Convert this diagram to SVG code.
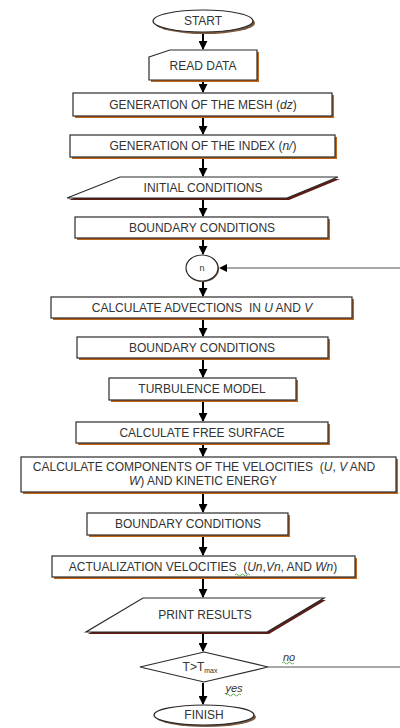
<svg xmlns="http://www.w3.org/2000/svg" width="400" height="728" viewBox="0 0 400 728">
<style>
.sh{fill:#c0651c;stroke:none}
.shp{fill:#5e1c14;stroke:none}
.she{fill:#7a5a40;stroke:none}
.bx{fill:#fff;stroke:#2a2a2a;stroke-width:1.2}
.t{font-family:"Liberation Sans",Arial,sans-serif;font-size:12px;fill:#333;text-anchor:middle;white-space:pre}
.i{font-style:italic}
.ln{stroke:#000;stroke-width:2;fill:none}
.lg{stroke:#555;stroke-width:1.2;fill:none}
.wv{stroke:#3a9a2a;stroke-width:0.8;fill:none}
</style>
<defs>
<marker id="ah" viewBox="0 0 10 10" refX="9" refY="5" markerWidth="4.5" markerHeight="4.5" orient="auto" markerUnits="strokeWidth">
<path d="M0,0 L10,5 L0,10 z" fill="#000"/>
</marker>
</defs>
<g id="connectors">
<line class="ln" x1="203" y1="33" x2="203" y2="49" marker-end="url(#ah)"/>
<line class="ln" x1="203" y1="81" x2="203" y2="92" marker-end="url(#ah)"/>
<line class="ln" x1="203" y1="118" x2="203" y2="134" marker-end="url(#ah)"/>
<line class="ln" x1="203" y1="159" x2="203" y2="176" marker-end="url(#ah)"/>
<line class="ln" x1="203" y1="200" x2="203" y2="216" marker-end="url(#ah)"/>
<line class="ln" x1="203" y1="240" x2="203" y2="254" marker-end="url(#ah)"/>
<line class="ln" x1="203" y1="282" x2="203" y2="296" marker-end="url(#ah)"/>
<line class="ln" x1="203" y1="320" x2="203" y2="336" marker-end="url(#ah)"/>
<line class="ln" x1="203" y1="360" x2="203" y2="377" marker-end="url(#ah)"/>
<line class="ln" x1="203" y1="402" x2="203" y2="421" marker-end="url(#ah)"/>
<line class="ln" x1="203" y1="445" x2="203" y2="456" marker-end="url(#ah)"/>
<line class="ln" x1="203" y1="494" x2="203" y2="512" marker-end="url(#ah)"/>
<line class="ln" x1="203" y1="537" x2="203" y2="555" marker-end="url(#ah)"/>
<line class="ln" x1="203" y1="579" x2="203" y2="597" marker-end="url(#ah)"/>
<line class="ln" x1="203" y1="634" x2="203" y2="651" marker-end="url(#ah)"/>
<line class="ln" x1="203" y1="683" x2="203" y2="704" marker-end="url(#ah)"/>
<line class="lg" x1="400" y1="268" x2="225" y2="268"/>
<path d="M227,264 L219,268 L227,272 z" fill="#000"/>
<line class="lg" x1="268" y1="667" x2="400" y2="667"/>
</g>
<g id="start">
<ellipse class="she" cx="205" cy="23" rx="50" ry="11"/>
<ellipse class="bx" cx="203" cy="21" rx="50" ry="11"/>
<text class="t" x="203" y="25">START</text>
</g>
<g id="read-data">
<path class="sh" d="M151,59 L172,52 L259,52 L259,82 L151,82 z"/>
<path class="bx" d="M149,57 L170,50 L257,50 L257,80 L149,80 z"/>
<text class="t" x="203" y="70">READ DATA</text>
</g>
<g id="mesh">
<rect class="sh" x="75" y="95" width="259" height="23"/>
<rect class="bx" x="73" y="93" width="259" height="23"/>
<text class="t" x="203" y="109">GENERATION OF THE MESH (<tspan class="i">dz</tspan>)</text>
</g>
<g id="index">
<rect class="sh" x="72" y="137" width="265" height="22"/>
<rect class="bx" x="70" y="135" width="265" height="22"/>
<text class="t" x="203" y="150">GENERATION OF THE INDEX (<tspan class="i">n/</tspan>)</text>
</g>
<g id="initial-conditions">
<path class="shp" d="M122,179 L340,179 L289,200 L69,200 z"/>
<path class="bx" d="M120,177 L338,177 L287,198 L67,198 z"/>
<text class="t" x="203" y="192">INITIAL CONDITIONS</text>
</g>
<g id="boundary-1">
<rect class="sh" x="77" y="219" width="253" height="21"/>
<rect class="bx" x="75" y="217" width="253" height="21"/>
<text class="t" x="202" y="232">BOUNDARY CONDITIONS</text>
</g>
<g id="n-connector">
<ellipse class="she" cx="203" cy="269" rx="16" ry="13"/>
<ellipse class="bx" cx="202" cy="268" rx="16" ry="13"/>
<text class="t" x="202" y="271" style="font-size:9px">n</text>
</g>
<g id="advections">
<rect class="sh" x="53" y="299" width="301" height="21"/>
<rect class="bx" x="51" y="297" width="301" height="21"/>
<text class="t" x="202" y="312">CALCULATE ADVECTIONS  IN <tspan class="i">U</tspan> AND <tspan class="i">V</tspan></text>
</g>
<g id="boundary-2">
<rect class="sh" x="79" y="339" width="251" height="21"/>
<rect class="bx" x="77" y="337" width="251" height="21"/>
<text class="t" x="202" y="352">BOUNDARY CONDITIONS</text>
</g>
<g id="turbulence">
<rect class="sh" x="111" y="380" width="187" height="22"/>
<rect class="bx" x="109" y="378" width="187" height="22"/>
<text class="t" x="202" y="393">TURBULENCE MODEL</text>
</g>
<g id="free-surface">
<rect class="sh" x="78" y="424" width="252" height="21"/>
<rect class="bx" x="76" y="422" width="252" height="21"/>
<text class="t" x="202" y="437">CALCULATE FREE SURFACE</text>
</g>
<g id="components">
<rect class="sh" x="23" y="459" width="375" height="35"/>
<rect class="bx" x="21" y="457" width="375" height="35"/>
<text class="t" x="204" y="471">CALCULATE COMPONENTS OF THE VELOCITIES  (<tspan class="i">U</tspan>, <tspan class="i">V</tspan> AND</text>
<text class="t" x="203" y="485"><tspan class="i">W</tspan>) AND KINETIC ENERGY</text>
</g>
<g id="boundary-3">
<rect class="sh" x="89" y="515" width="201" height="22"/>
<rect class="bx" x="87" y="513" width="201" height="22"/>
<text class="t" x="188" y="528">BOUNDARY CONDITIONS</text>
</g>
<g id="actualization">
<rect class="sh" x="54" y="558" width="303" height="21"/>
<rect class="bx" x="52" y="556" width="303" height="21"/>
<text class="t" x="203" y="571">ACTUALIZATION VELOCITIES  (<tspan class="i">Un</tspan>,<tspan class="i">Vn</tspan>, AND <tspan class="i">Wn</tspan>)</text>
<path class="wv" d="M235,575 q1.5,-2 3,0 t3,0 t3,0 t3,0 t3,0"/>
</g>
<g id="print-results">
<path class="shp" d="M145,600 L326,600 L269,634 L88,634 z"/>
<path class="bx" d="M143,598 L324,598 L267,632 L86,632 z"/>
<text class="t" x="205" y="619">PRINT RESULTS</text>
</g>
<g id="decision">
<path class="bx" d="M204,652 L268,667 L204,682 L140,667 z"/>
<text class="t" x="200" y="671">T&gt;T<tspan style="font-size:7px" dy="2">max</tspan></text>
<text class="t i" x="289" y="661" style="font-size:11px">no</text>
<path class="wv" d="M282,663 q1.5,-2 3,0 t3,0 t3,0 t3,0"/>
<text class="t i" x="234" y="692" style="font-size:11px">yes</text>
<path class="wv" d="M226,695 q1.5,-2 3,0 t3,0 t3,0 t3,0 t3,0"/>
</g>
<g id="finish">
<ellipse class="she" cx="206" cy="717" rx="50" ry="10"/>
<ellipse class="bx" cx="204" cy="715" rx="50" ry="10"/>
<text class="t" x="204" y="719">FINISH</text>
</g>
</svg>
